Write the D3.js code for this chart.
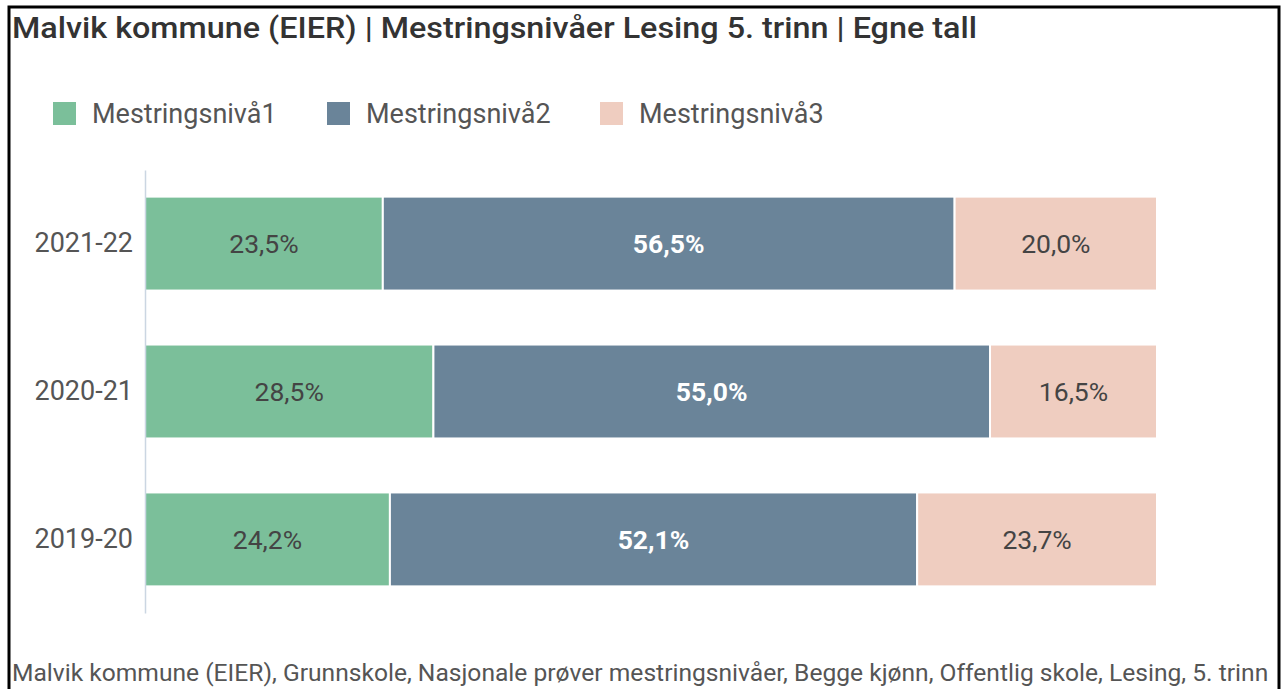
<!DOCTYPE html>
<html>
<head>
<meta charset="utf-8">
<script src="https://cdn.jsdelivr.net/npm/d3@7"></script>
<style>
  html, body { margin: 0; padding: 0; background: #fff; }
  svg { display: block; font-family: Roboto, "Noto Sans", sans-serif; }
</style>
</head>
<body>
<div id="chart"></div>
<script>
// ── Data ───────────────────────────────────────────────────────────────
const years = ["2021-22", "2020-21", "2019-20"];
const levels = ["Mestringsnivå1", "Mestringsnivå2", "Mestringsnivå3"];
const niva1 = [23.5, 28.5, 24.2];
const niva2 = [56.5, 55.0, 52.1];
const niva3 = [20.0, 16.5, 23.7];
const colors = ["#7bbf9a", "#6a8499", "#efcdc0"];

const W = 1286, H = 689;
const svg = d3.select("#chart").append("svg").attr("width", W).attr("height", H);

// frame
svg.append("rect").attr("x", 9).attr("y", 7).attr("width", 1270).attr("height", H + 20)
  .attr("fill", "#fff").attr("stroke", "#000").attr("stroke-width", 3);

// title
svg.append("text").attr("x", 12).attr("y", 38)
  .attr("font-size", 29).attr("font-weight", 500).attr("fill", "#333")
  .attr("textLength", 965).attr("lengthAdjust", "spacingAndGlyphs")
  .text("Malvik kommune (EIER) | Mestringsnivåer Lesing 5. trinn | Egne tall");

// ── Legend ─────────────────────────────────────────────────────────────
const legendX = [53, 327, 600];
const lg = svg.append("g").selectAll("g").data(levels).join("g")
  .attr("transform", (d, i) => `translate(${legendX[i]},102)`);
lg.append("rect").attr("width", 23).attr("height", 23).attr("fill", (d, i) => colors[i]);
lg.append("text").attr("x", 39).attr("y", 21).attr("font-size", 27).attr("fill", "#555").text(d => d);

// ── Scales ─────────────────────────────────────────────────────────────
const x = d3.scaleLinear().domain([0, 100]).range([145, 1157]);
const y = d3.scaleBand().domain(years).range([170, 613]).paddingInner(0.365).paddingOuter(0.18);

const rows = years.map((yr, i) => ({ yr, vals: [niva1[i], niva2[i], niva3[i]] }));
const stack = d3.stack().keys([0, 1, 2]).value((d, k) => d.vals[k]);
const series = stack(rows);

const g = svg.append("g");
series.forEach((s, k) => {
  g.selectAll(null).data(s).join("rect")
    .attr("x", d => x(d[0]))
    .attr("y", d => y(d.data.yr))
    .attr("width", d => x(d[1]) - x(d[0]))
    .attr("height", y.bandwidth())
    .attr("fill", colors[k])
    .attr("stroke", "#fff").attr("stroke-width", 2);
  g.selectAll(null).data(s).join("text")
    .attr("x", d => (x(d[0]) + x(d[1])) / 2)
    .attr("y", d => y(d.data.yr) + y.bandwidth() / 2)
    .attr("dy", "0.36em").attr("text-anchor", "middle")
    .attr("font-size", 26.5)
    .attr("font-weight", k === 1 ? 700 : 400)
    .attr("fill", k === 1 ? "#fff" : "#444")
    .text(d => d.data.vals[k].toFixed(1).replace(".", ",") + "%");
});

// y axis
const yAxis = svg.append("g").attr("transform", "translate(145,0)")
  .call(d3.axisLeft(y).tickSize(0).tickPadding(12));
yAxis.select(".domain").attr("stroke", "#cbd6e2").attr("stroke-width", 1.5);
yAxis.selectAll("text").attr("font-size", 27).attr("fill", "#555")
  .attr("font-family", "Roboto, sans-serif");

// footer
svg.append("text").attr("x", 12).attr("y", 681)
  .attr("font-size", 24.6).attr("fill", "#555")
  .text("Malvik kommune (EIER), Grunnskole, Nasjonale prøver mestringsnivåer, Begge kjønn, Offentlig skole, Lesing, 5. trinn");
</script>
</body>
</html>
